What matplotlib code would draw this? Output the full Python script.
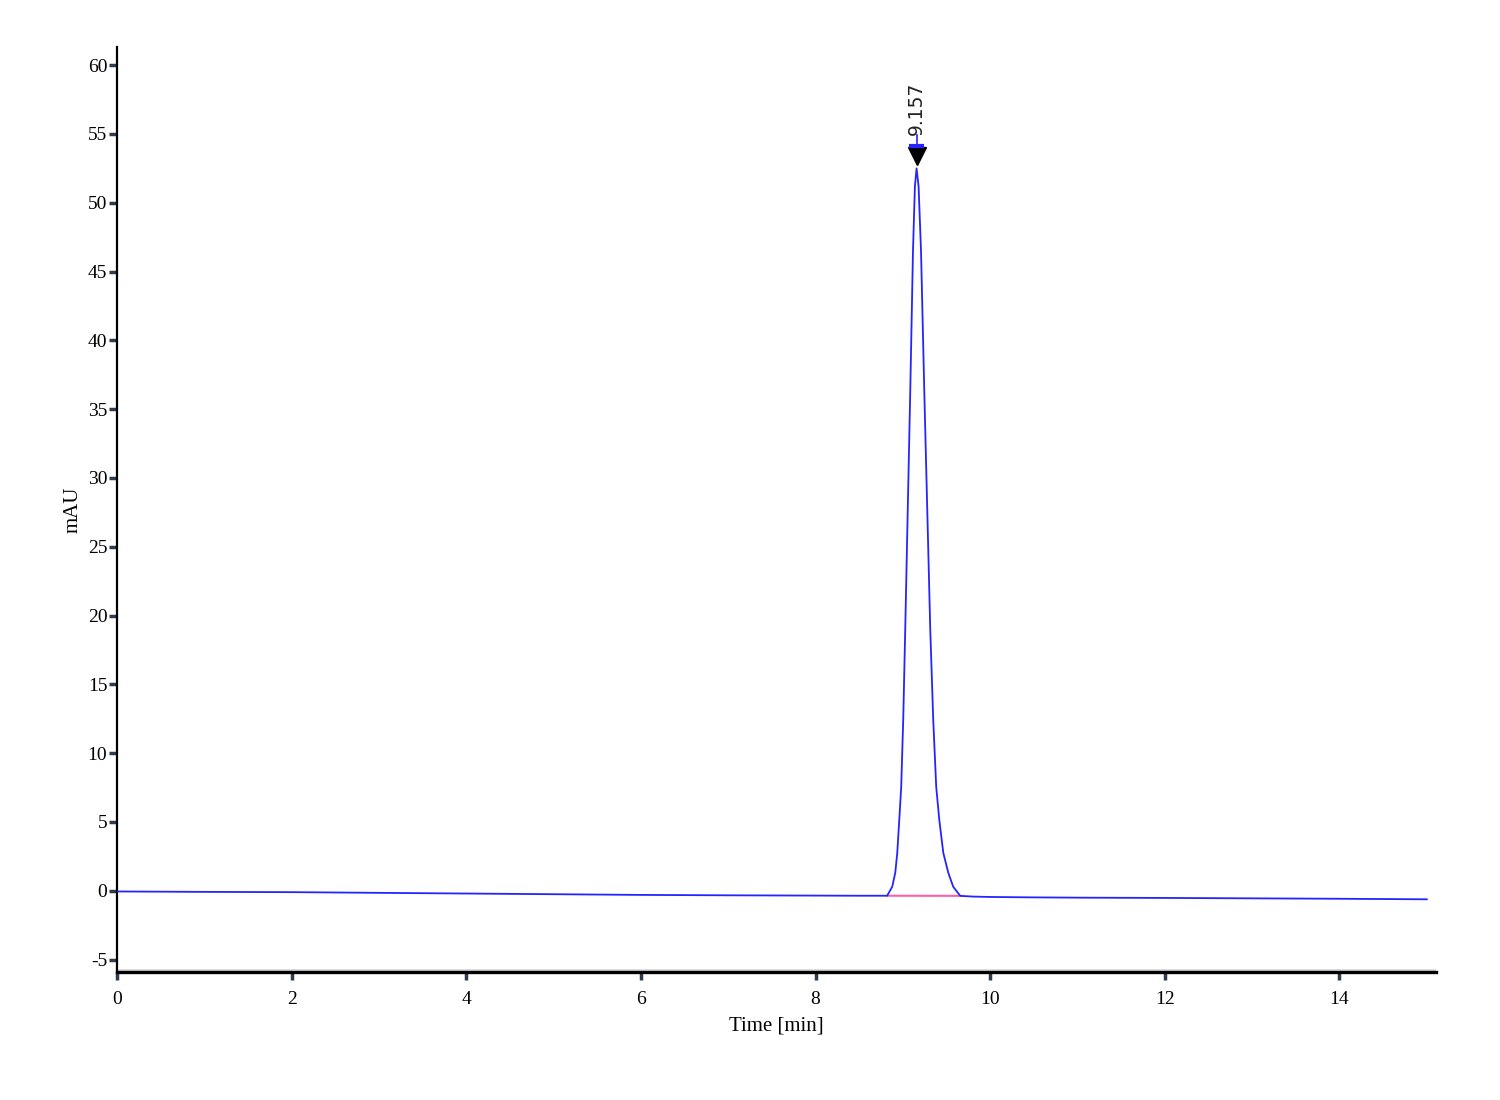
import matplotlib
matplotlib.use("Agg")
import matplotlib.pyplot as plt

# chromatogram (time in min, signal in mAU)
time_min = [0.0, 1.0, 2.0, 3.0, 4.0, 5.0, 6.0, 7.0, 8.0, 8.5, 8.82,
            8.878, 8.913, 8.936, 8.959, 8.981, 9.004, 9.027, 9.085, 9.116, 9.138,
            9.157,
            9.18, 9.208, 9.245, 9.314, 9.348, 9.382, 9.417, 9.463, 9.52, 9.577,
            9.657, 9.8, 10.0, 10.5, 11.0, 12.0, 13.0, 14.0, 15.0]
signal_mau = [-0.05, -0.08, -0.1, -0.15, -0.2, -0.25, -0.3, -0.33, -0.35, -0.36, -0.36,
              0.29, 1.31, 2.76, 5.16, 7.55, 12.4, 18.95, 36.4, 46.5, 51.2,
              52.5,
              51.2, 46.5, 36.4, 18.95, 12.4, 7.55, 5.16, 2.76, 1.31, 0.29,
              -0.37, -0.42, -0.45, -0.48, -0.5, -0.52, -0.55, -0.58, -0.62]

# integration baseline under the peak
base_t = [8.82, 9.66]
base_v = [-0.36, -0.37]

peak_t = 9.157
peak_v = 52.5
peak_label = "9.157"

x_ticks = [0, 2, 4, 6, 8, 10, 12, 14]
y_ticks = [-5, 0, 5, 10, 15, 20, 25, 30, 35, 40, 45, 50, 55, 60]

plt.rcParams.update({
    "font.family": "Liberation Serif",
    "xtick.labelsize": 14,
    "ytick.labelsize": 14,
    "axes.unicode_minus": False,
})

fig = plt.figure(figsize=(15, 11), dpi=100)
ax = fig.add_axes([0.078, 0.1164, 0.879, 0.8406])

# baseline first, signal on top
ax.plot(base_t, base_v, color="#ff5fa8", lw=1.5, zorder=2)
ax.plot(time_min, signal_mau, color="#2424ff", lw=1.3, zorder=3)

# peak marker: triangle with a blue cap and the retention time above it
ax.plot([peak_t], [peak_v + 0.9], marker="v", markersize=13, color="black",
        zorder=4, clip_on=False)
ax.plot([peak_t - 0.09, peak_t + 0.09], [peak_v + 1.6, peak_v + 1.6],
        color="#2424ff", lw=3, zorder=5, solid_capstyle="butt")
ax.plot([peak_t, peak_t], [peak_v + 1.6, peak_v + 2.4], color="#2424ff",
        lw=1.2, zorder=5)
ax.text(peak_t, peak_v + 2.4, peak_label, rotation=90, ha="center", va="bottom",
        fontsize=13.5, family="DejaVu Sans", color="#222222")

ax.set_xlim(0, 15.1)
ax.set_ylim(-5.9, 61.3)
ax.set_xticks(x_ticks)
ax.set_yticks(y_ticks)

for side in ["top", "right"]:
    ax.spines[side].set_visible(False)
ax.spines["left"].set_linewidth(1.6)
ax.spines["bottom"].set_linewidth(2.4)
ax.spines["left"].set_color("black")
ax.spines["bottom"].set_color("black")
# faint grey shadow just above the time axis
ax.axhline(-5.75, color="#d8d8d8", lw=2, zorder=1)

ax.tick_params(axis="both", direction="out", length=6, width=2.5,
               color="#2e3b4a")
ax.tick_params(axis="x", pad=8)
ax.tick_params(axis="y", pad=1)

ax.set_xlabel("Time [min]", fontsize=15, labelpad=6)
ax.set_ylabel("mAU", fontsize=15, labelpad=4)

fig.savefig("out.png", dpi=100, facecolor="white")
